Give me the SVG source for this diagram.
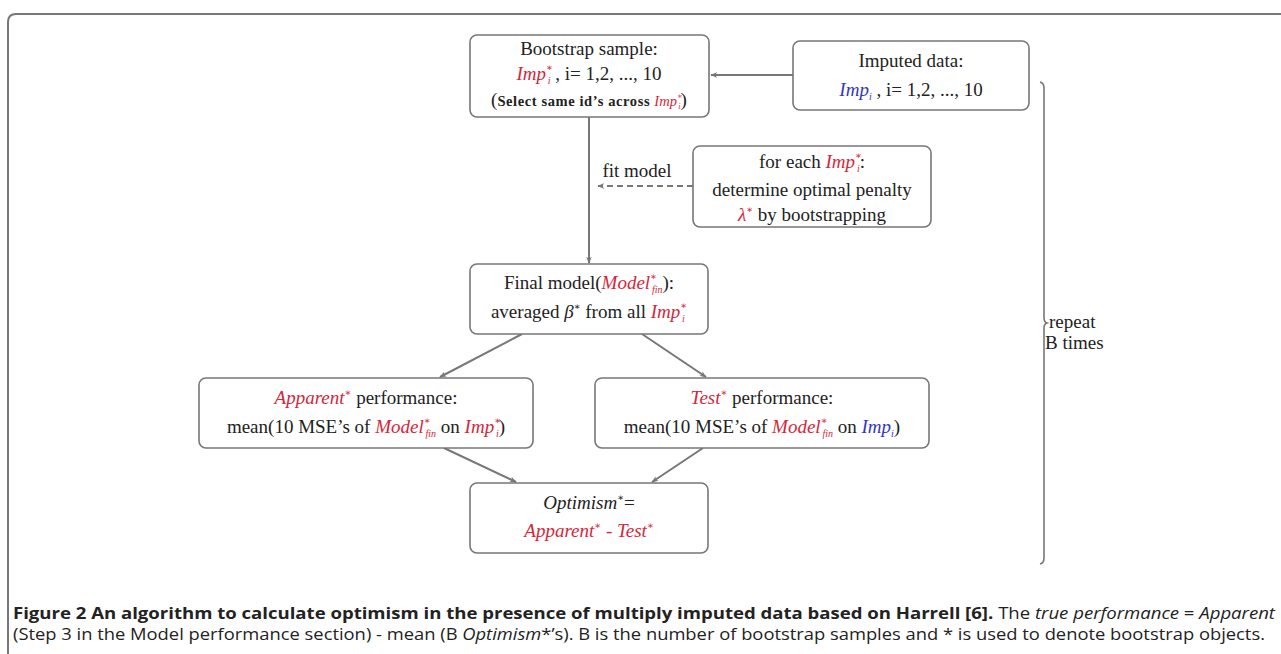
<svg xmlns="http://www.w3.org/2000/svg" width="1281" height="654" viewBox="0 0 1281 654">
<style>
.box{fill:#fff;stroke:#777;stroke-width:1.6}
.t{font-family:'Liberation Serif','Times New Roman','DejaVu Serif',serif;font-size:19px;fill:#222;text-anchor:middle}
.r{fill:#d6263a;font-style:italic}
.b{fill:#3434c4;font-style:italic}
.k{fill:#222;font-style:italic}
.s{font-size:10px}
.ln{stroke:#777;stroke-width:2;fill:none}
.cap{font-family:'Open Sans','Liberation Sans',sans-serif;font-size:16px;fill:#222}
</style>
<defs>
<marker id="ah" viewBox="0 0 10 10" refX="9" refY="5" markerWidth="7" markerHeight="7" orient="auto-start-reverse" markerUnits="userSpaceOnUse">
<path d="M0,1 L10,5 L0,9 L3,5 z" fill="#777"/>
</marker>
</defs>
<rect width="1281" height="654" fill="#fff"/>
<path d="M8,654 L8,22 Q8,14 16,14 L1281,14" fill="none" stroke="#777" stroke-width="2"/>

<g id="connectors">
<line class="ln" x1="793" y1="75" x2="711" y2="75" marker-end="url(#ah)"/>
<line class="ln" x1="589" y1="117" x2="589" y2="263" marker-end="url(#ah)"/>
<line class="ln" x1="693" y1="186" x2="598" y2="186" stroke-dasharray="6,4" marker-end="url(#ah)"/>
<line class="ln" x1="522" y1="334" x2="440" y2="377" marker-end="url(#ah)"/>
<line class="ln" x1="642" y1="334" x2="706" y2="377" marker-end="url(#ah)"/>
<line class="ln" x1="444" y1="448" x2="516" y2="482" marker-end="url(#ah)"/>
<line class="ln" x1="703" y1="448" x2="652" y2="482" marker-end="url(#ah)"/>
<text class="t" x="637" y="177" font-family="Liberation Serif">fit model</text>
</g>

<g id="bootstrap">
<rect class="box" x="470" y="35" width="239" height="82" rx="7"/>
<text class="t" x="589" y="55" font-family="Liberation Serif">Bootstrap sample:</text>
<text class="t" x="589" y="80" font-family="Liberation Serif"><tspan class="r">Imp</tspan><tspan class="r s" dy="-9">∗</tspan><tspan class="r s" dx="-5" dy="13">i</tspan><tspan dy="-4"> , i= 1,2, ..., 10</tspan></text>
<text class="t" x="589" y="106" font-family="Liberation Serif" style="font-size:14.5px"><tspan style="font-size:19px">(</tspan><tspan font-weight="bold" letter-spacing="0.6">Select same id’s across </tspan><tspan class="r">Imp</tspan><tspan class="r" style="font-size:8px" dy="-7">∗</tspan><tspan class="r" style="font-size:8px" dx="-4" dy="10">i</tspan><tspan style="font-size:19px" dy="-3">)</tspan></text>
</g>

<g id="imputed">
<rect class="box" x="793" y="41" width="236" height="69" rx="7"/>
<text class="t" x="911" y="67" font-family="Liberation Serif">Imputed data:</text>
<text class="t" x="911" y="96" font-family="Liberation Serif"><tspan class="b">Imp</tspan><tspan class="b s" dy="4">i</tspan><tspan dy="-4"> , i= 1,2, ..., 10</tspan></text>
</g>

<g id="penalty">
<rect class="box" x="693" y="146" width="238" height="81" rx="7"/>
<text class="t" x="812" y="168" font-family="Liberation Serif">for each <tspan class="r">Imp</tspan><tspan class="r s" dy="-9">∗</tspan><tspan class="r s" dx="-5" dy="13">i</tspan><tspan dy="-4">:</tspan></text>
<text class="t" x="812" y="196" font-family="Liberation Serif">determine optimal penalty</text>
<text class="t" x="812" y="221" font-family="Liberation Serif"><tspan class="r">λ</tspan><tspan class="r s" dy="-8">∗</tspan><tspan dy="8"> by bootstrapping</tspan></text>
</g>

<g id="final">
<rect class="box" x="470" y="264" width="238" height="70" rx="7"/>
<text class="t" x="589" y="289" font-family="Liberation Serif">Final model(<tspan class="r">Model</tspan><tspan class="r s" dy="-9">∗</tspan><tspan class="r s" dx="-5" dy="13">fin</tspan><tspan dy="-4">):</tspan></text>
<text class="t" x="589" y="318" font-family="Liberation Serif">averaged <tspan class="k">β</tspan><tspan class="s" dy="-8">∗</tspan><tspan dy="8"> from all </tspan><tspan class="r">Imp</tspan><tspan class="r s" dy="-9">∗</tspan><tspan class="r s" dx="-5" dy="13">i</tspan></text>
</g>

<g id="apparent">
<rect class="box" x="199" y="378" width="334" height="70" rx="7"/>
<text class="t" x="366" y="404" font-family="Liberation Serif"><tspan class="r">Apparent</tspan><tspan class="r s" dy="-8">∗</tspan><tspan dy="8"> performance:</tspan></text>
<text class="t" x="366" y="433" font-family="Liberation Serif">mean(10 MSE’s of <tspan class="r">Model</tspan><tspan class="r s" dy="-9">∗</tspan><tspan class="r s" dx="-5" dy="13">fin</tspan><tspan dy="-4"> on </tspan><tspan class="r">Imp</tspan><tspan class="r s" dy="-9">∗</tspan><tspan class="r s" dx="-5" dy="13">i</tspan><tspan dy="-4">)</tspan></text>
</g>

<g id="test">
<rect class="box" x="595" y="378" width="334" height="70" rx="7"/>
<text class="t" x="762" y="404" font-family="Liberation Serif"><tspan class="r">Test</tspan><tspan class="r s" dy="-8">∗</tspan><tspan dy="8"> performance:</tspan></text>
<text class="t" x="762" y="433" font-family="Liberation Serif">mean(10 MSE’s of <tspan class="r">Model</tspan><tspan class="r s" dy="-9">∗</tspan><tspan class="r s" dx="-5" dy="13">fin</tspan><tspan dy="-4"> on </tspan><tspan class="b">Imp</tspan><tspan class="b s" dy="4">i</tspan><tspan dy="-4">)</tspan></text>
</g>

<g id="optimism">
<rect class="box" x="470" y="483" width="238" height="70" rx="7"/>
<text class="t" x="589" y="509" font-family="Liberation Serif"><tspan class="k">Optimism</tspan><tspan class="s" dy="-8">∗</tspan><tspan dy="8">=</tspan></text>
<text class="t" x="589" y="537" font-family="Liberation Serif"><tspan class="r">Apparent</tspan><tspan class="r s" dy="-8">∗</tspan><tspan class="r" dy="8" style="font-style:normal"> - </tspan><tspan class="r">Test</tspan><tspan class="r s" dy="-8">∗</tspan></text>
</g>

<g id="brace">
<path d="M1040,82 Q1044,83 1044,88 L1044,318 Q1044,322 1047,323 Q1044,324 1044,328 L1044,558 Q1044,563 1040,564" fill="none" stroke="#777" stroke-width="1.6"/>
<text class="t" x="1049" y="328" font-family="Liberation Serif" style="text-anchor:start">repeat</text>
<text class="t" x="1045" y="349" font-family="Liberation Serif" style="text-anchor:start">B times</text>
</g>

<text class="cap" x="13" y="619" textLength="1262" lengthAdjust="spacingAndGlyphs"><tspan font-weight="bold">Figure 2 An algorithm to calculate optimism in the presence of multiply imputed data based on Harrell [6].</tspan> The <tspan font-style="italic">true performance</tspan> = <tspan font-style="italic">Apparent</tspan></text>
<text class="cap" x="13" y="640" textLength="1252" lengthAdjust="spacingAndGlyphs">(Step 3 in the Model performance section) - mean (B <tspan font-style="italic">Optimism</tspan>*’s). B is the number of bootstrap samples and * is used to denote bootstrap objects.</text>
</svg>
